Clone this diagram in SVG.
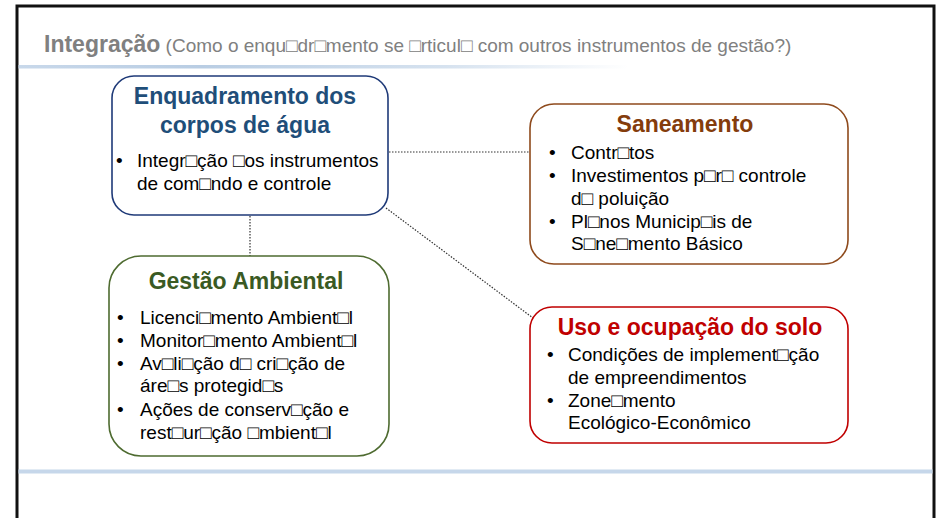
<svg xmlns="http://www.w3.org/2000/svg" width="937" height="518" viewBox="0 0 937 518">
<defs>
<linearGradient id="topline" x1="0" y1="0" x2="1" y2="0">
<stop offset="0" stop-color="#c8d8ea"/>
<stop offset="0.3" stop-color="#b9cde3"/>
<stop offset="0.7" stop-color="#d6e2ef"/>
<stop offset="1" stop-color="#ffffff"/>
</linearGradient>
<style>
.box{fill:#ffffff;stroke-width:1.6}
.ttl{font-family:"Liberation Sans",Arial,sans-serif;font-weight:bold;font-size:23px;text-anchor:middle}
.txt{font-family:"Liberation Sans",Arial,sans-serif;font-size:19px;fill:#000000}
.conn{fill:none;stroke:#333333;stroke-width:1.2;stroke-dasharray:1.5 1.5}
</style>
</defs>
<rect x="0" y="0" width="937" height="518" fill="#ffffff"/>
<path d="M17 520 V6 H934 V520" fill="none" stroke="#111111" stroke-width="3"/>
<rect x="18.5" y="65" width="610" height="3.5" fill="url(#topline)"/>
<rect x="18.5" y="469.5" width="914" height="4" fill="#c6d7ea"/>
<text x="44" y="52" font-family="&quot;Liberation Sans&quot;,Arial,sans-serif" fill="#808080"><tspan font-weight="bold" font-size="23">Integração</tspan><tspan font-size="19"> (Como o enqu□dr□mento se □rticul□ com outros instrumentos de gestão?)</tspan></text>
<g id="connectors">
<line class="conn" x1="389" y1="152" x2="530" y2="152"/>
<line class="conn" x1="386" y1="208" x2="533" y2="318"/>
<line class="conn" x1="250" y1="216" x2="250" y2="256"/>
</g>
<g id="enquadramento">
<rect class="box" x="112" y="76" width="276" height="139" rx="22" stroke="#1f3a78"/>
<text class="ttl" fill="#1f4e79"><tspan x="245" y="104">Enquadramento dos</tspan><tspan x="245" y="133">corpos de água</tspan></text>
<text class="txt"><tspan x="116" y="167">•</tspan><tspan x="137" y="167">Integr□ção □os instrumentos</tspan><tspan x="137" y="190">de com□ndo e controle</tspan></text>
</g>
<g id="saneamento">
<rect class="box" x="530" y="104" width="318" height="160" rx="24" stroke="#8e4a1c"/>
<text class="ttl" fill="#843c0c" x="685" y="132">Saneamento</text>
<text class="txt"><tspan x="549" y="159">•</tspan><tspan x="571" y="159">Contr□tos</tspan><tspan x="549" y="182">•</tspan><tspan x="571" y="182">Investimentos p□r□ controle</tspan><tspan x="571" y="205">d□ poluição</tspan><tspan x="549" y="228">•</tspan><tspan x="571" y="228">Pl□nos Municip□is de</tspan><tspan x="571" y="250">S□ne□mento Básico</tspan></text>
</g>
<g id="gestao">
<rect class="box" x="109" y="256" width="280" height="200" rx="32" stroke="#4e6b30"/>
<text class="ttl" fill="#3a5a23" x="246" y="289">Gestão Ambiental</text>
<text class="txt"><tspan x="117" y="324">•</tspan><tspan x="140" y="324">Licenci□mento Ambient□l</tspan><tspan x="117" y="347">•</tspan><tspan x="140" y="347">Monitor□mento Ambient□l</tspan><tspan x="117" y="370">•</tspan><tspan x="140" y="370">Av□li□ção d□ cri□ção de</tspan><tspan x="140" y="392">áre□s protegid□s</tspan><tspan x="117" y="416">•</tspan><tspan x="140" y="416">Ações de conserv□ção e</tspan><tspan x="140" y="439">rest□ur□ção □mbient□l</tspan></text>
</g>
<g id="uso">
<rect class="box" x="530" y="307" width="318" height="136" rx="22" stroke="#c00000"/>
<text class="ttl" fill="#c00000" x="690" y="335">Uso e ocupação do solo</text>
<text class="txt"><tspan x="547" y="361">•</tspan><tspan x="568" y="361">Condições de implement□ção</tspan><tspan x="568" y="384">de empreendimentos</tspan><tspan x="547" y="407">•</tspan><tspan x="568" y="407">Zone□mento</tspan><tspan x="568" y="429">Ecológico-Econômico</tspan></text>
</g>
</svg>
